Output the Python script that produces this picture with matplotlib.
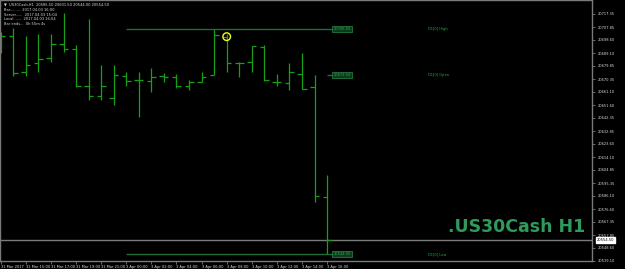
import matplotlib
matplotlib.use("Agg")
import matplotlib.pyplot as plt
from matplotlib.transforms import blended_transform_factory

# hourly OHLC bars, US30Cash H1
opens = [20697.0, 20701.7, 20675.3, 20681.8, 20685.4, 20695.7, 20692.3, 20665.2, 20658.0,
         20656.6, 20672.6, 20669.8, 20668.8, 20672.6, 20672.1, 20665.6, 20668.3, 20673.6,
         20701.0, 20681.8, 20682.7, 20693.8, 20668.3, 20667.6, 20674.1, 20664.5, 20585.5]
highs = [20704.5, 20707.0, 20701.7, 20703.1, 20703.1, 20717.9, 20694.8, 20713.7, 20680.4,
         20680.4, 20675.7, 20675.7, 20678.2, 20675.0, 20674.1, 20669.5, 20675.7, 20706.5,
         20702.7, 20682.7, 20694.3, 20694.8, 20674.3, 20682.2, 20689.0, 20673.0, 20601.5]
lows = [20689.0, 20672.6, 20672.6, 20675.7, 20682.7, 20689.7, 20664.5, 20655.3, 20655.3,
        20651.9, 20665.6, 20643.3, 20661.3, 20668.5, 20664.2, 20662.3, 20668.1, 20673.6,
        20675.3, 20671.7, 20675.3, 20669.3, 20665.6, 20662.5, 20663.0, 20582.0, 20544.0]
closes = [20701.7, 20674.8, 20680.6, 20684.7, 20695.5, 20691.9, 20665.2, 20658.2, 20665.6,
          20673.1, 20669.0, 20670.0, 20672.1, 20672.1, 20665.6, 20668.3, 20672.1, 20702.2,
          20681.8, 20682.2, 20694.1, 20669.5, 20668.3, 20675.5, 20663.5, 20586.3, 20554.5]

time_labels = ["31 Mar 2017", "31 Mar 15:00", "31 Mar 17:00", "31 Mar 19:00", "31 Mar 21:00",
               "3 Apr 00:00", "3 Apr 02:00", "3 Apr 04:00", "3 Apr 06:00", "3 Apr 08:00",
               "3 Apr 10:00", "3 Apr 12:00", "3 Apr 14:00", "3 Apr 16:00"]
price_ticks = [20717.35, 20707.85, 20698.60, 20689.10, 20679.85, 20670.35, 20661.10, 20651.60,
               20642.35, 20632.85, 20623.60, 20614.10, 20604.85, 20595.35, 20586.10, 20576.60,
               20567.35, 20557.85, 20548.60, 20539.10]

d1_high = 20706.50
d1_open = 20673.50
d1_low = 20544.00
last_price = 20554.50

BAR = "#16a016"
LEVEL = "#1f6e3a"
TEXT = "#d8d8d8"
GREY = "#7a7a7a"
FS = 2.6

fig = plt.figure(figsize=(6.25, 2.69), dpi=100, facecolor="black")
ax = fig.add_axes([0.0, 8 / 269, 592 / 625, 261 / 269], facecolor="black")

n = len(opens)
idx = list(range(n))
tick_w = 0.36
ax.vlines(idx, lows, highs, color=BAR, lw=0.9)
ax.hlines(opens, [i - tick_w for i in idx], idx, color=BAR, lw=0.9)
ax.hlines(closes, idx, [i + tick_w for i in idx], color=BAR, lw=0.9)

# current price line
ax.axhline(last_price, color=GREY, lw=1.0, zorder=0)

# D1 levels
last = n - 1
ax.hlines(d1_high, 10, last + 0.4, color=LEVEL, lw=1.0)
ax.hlines(d1_low, 10, last + 0.4, color=LEVEL, lw=1.0)
ax.hlines(d1_open, last, last + 0.4, color=LEVEL, lw=1.0)
for val, name in [(d1_high, "High"), (d1_open, "Open"), (d1_low, "Low")]:
    ax.text(last + 0.5, val, f"{val:.2f}", color="#2aa84a", fontsize=FS, va="center",
            ha="left", bbox=dict(boxstyle="square,pad=0.3", fc="#0b3a1c", ec="#2a8a4a", lw=0.5))
    ax.text(34.05, val, f"D1[0] {name}", color="#2aa84a", fontsize=FS, va="center", ha="left")

# yellow marker
ax.scatter([18], [opens[18]], s=30, facecolors="none", edgecolors="#ffff00", linewidths=1.0, zorder=5)

ax.set_xlim(-0.064, 47.11)
ax.set_ylim(20539.21, 20727.45)

ax.yaxis.tick_right()
ax.set_yticks(price_ticks)
ax.set_yticklabels([f"{p:.2f}" for p in price_ticks])
ax.tick_params(axis="y", colors=GREY, labelcolor=TEXT, labelsize=FS, length=2, width=0.6, pad=2.0)
ax.set_xticks(list(range(0, n, 2)))
ax.set_xticklabels(time_labels, ha="left")
ax.tick_params(axis="x", colors=GREY, labelcolor=TEXT, labelsize=FS, length=2, width=0.6, pad=1.0)
for s in ax.spines.values():
    s.set_color(GREY)
    s.set_linewidth(1.0)

# current price tag on axis
tr = blended_transform_factory(ax.transAxes, ax.transData)
ax.text(1.008, last_price, f"{last_price:.2f}", transform=tr, color="black", fontsize=FS,
        va="center", ha="left", bbox=dict(boxstyle="square,pad=0.25", fc="white", ec="white"),
        clip_on=False)

# info block
info = ["\u25bc  US30Cash,H1  20585.50 20601.50 20544.00 20554.50",
        "Bar.........  2017.04.03 16:00",
        "Server......  2017.04.03 15:04",
        "Local.......  2017.04.03 16:04",
        "Bar ends...  0h 55m 4s"]
ys = [4, 10, 14.7, 19.2, 23.7]
for line, y in zip(info, ys):
    fig.text(4 / 625, 1 - y / 269, line, color=TEXT, fontsize=FS, va="center", ha="left")

# watermark
fig.text(585 / 625, 1 - 227 / 269, ".US30Cash H1", color="#2e9b5a", fontsize=12.5, fontweight="bold",
         family="DejaVu Sans", va="center", ha="right")

fig.savefig("out.png", dpi=100, facecolor="black")
